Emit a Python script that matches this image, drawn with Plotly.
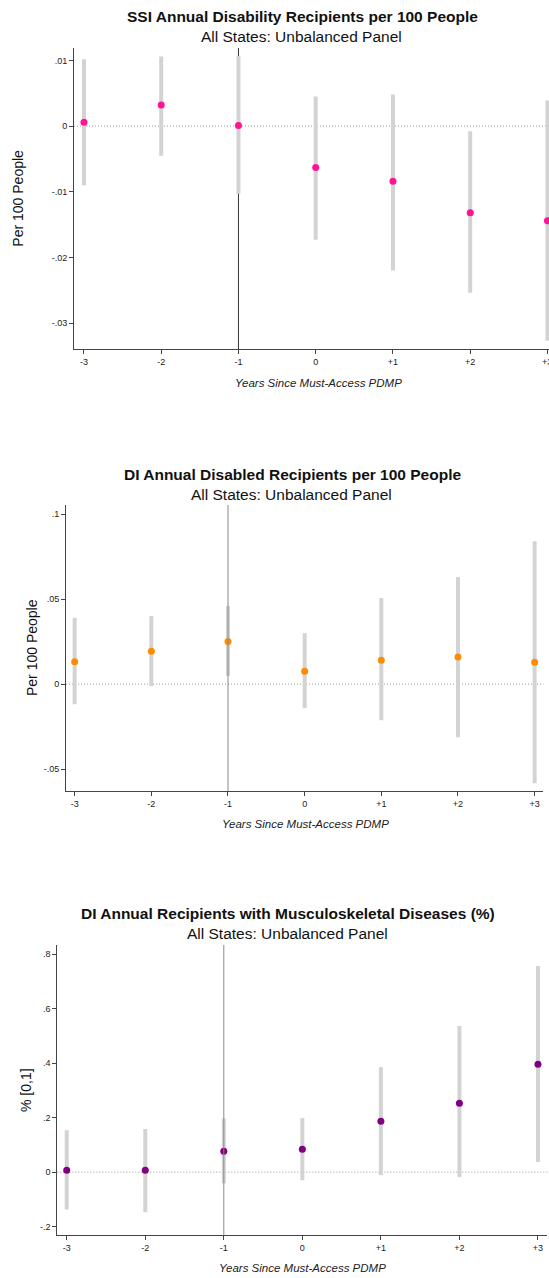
import plotly.graph_objects as go

W, H = 549, 1278

# ---- data ----
years = [-3, -2, -1, 0, 1, 2, 3]
x_ticklabels = ["-3", "-2", "-1", "0", "+1", "+2", "+3"]

ssi_est = [0.0006, 0.0032, 0.0001, -0.0063, -0.0084, -0.0132, -0.0144]
ssi_hi = [0.0102, 0.0106, 0.0107, 0.0045, 0.0048, -0.0008, 0.0039]
ssi_lo = [-0.0090, -0.0045, -0.0103, -0.0173, -0.0220, -0.0254, -0.0327]
ssi_ytick_vals = [0.01, 0, -0.01, -0.02, -0.03]
ssi_ytick_text = [".01", "0", "-.01", "-.02", "-.03"]

di_est = [0.0131, 0.0194, 0.0251, 0.0076, 0.0141, 0.0159, 0.0129]
di_hi = [0.039, 0.040, 0.0459, 0.030, 0.0506, 0.063, 0.084]
di_lo = [-0.0118, -0.0012, 0.0049, -0.0141, -0.0212, -0.0312, -0.0582]
di_ytick_vals = [0.1, 0.05, 0, -0.05]
di_ytick_text = [".1", ".05", "0", "-.05"]

ms_est = [0.0073, 0.007, 0.077, 0.084, 0.187, 0.253, 0.396]
ms_hi = [0.154, 0.158, 0.197, 0.198, 0.385, 0.536, 0.756]
ms_lo = [-0.137, -0.147, -0.041, -0.030, -0.011, -0.018, 0.037]
ms_ytick_vals = [0.8, 0.6, 0.4, 0.2, 0, -0.2]
ms_ytick_text = [".8", ".6", ".4", ".2", "0", "-.2"]

titles = ["SSI Annual Disability Recipients per 100 People",
          "DI Annual Disabled Recipients per 100 People",
          "DI Annual Recipients with Musculoskeletal Diseases (%)"]
subtitle = "All States: Unbalanced Panel"
ytitles = ["Per 100 People", "Per 100 People", "% [0,1]"]
xtitle = "Years Since Must-Access PDMP"
colors = ["#FF1493", "#FF8C00", "#800080"]

# ---- layout geometry (pixels) ----
panels = [
    dict(left=74, right=549, top=48, bottom=349.3, xr=[-3.129, 3.02], yr=[-0.034, 0.0119],
         title_y=17, sub_y=37, title_x=302, ylab_x=18, xt_y=383, xt_x=318, tick_y=362,
         vline_color="#333333", vline_layer="below"),
    dict(left=66, right=543.3, top=505, bottom=791, xr=[-3.113, 3.113], yr=[-0.0628, 0.1053],
         title_y=475, sub_y=494, title_x=292, ylab_x=32, xt_y=824, xt_x=305, tick_y=805,
         vline_color="#8a8a8a", vline_layer="above"),
    dict(left=57.3, right=547.4, top=945, bottom=1235, xr=[-3.12, 3.12], yr=[-0.2305, 0.833],
         title_y=913, sub_y=933, title_x=288, ylab_x=26, xt_y=1268, xt_x=302, tick_y=1249,
         vline_color="#8a8a8a", vline_layer="above"),
]

data = [(ssi_est, ssi_lo, ssi_hi, ssi_ytick_vals, ssi_ytick_text),
        (di_est, di_lo, di_hi, di_ytick_vals, di_ytick_text),
        (ms_est, ms_lo, ms_hi, ms_ytick_vals, ms_ytick_text)]

fx = lambda px: px / W
fy = lambda py: 1 - py / H

fig = go.Figure()
shapes = []
annotations = []
font_fam = "Liberation Sans, Arial, sans-serif"

for i, (p, (est, lo, hi, tv, tt)) in enumerate(zip(panels, data)):
    n = "" if i == 0 else str(i + 1)
    xa, ya = "x" + n, "y" + n
    # CI bars
    cx, cy = [], []
    for xv, l, h in zip(years, lo, hi):
        cx += [xv, xv, None]
        cy += [l, h, None]
    fig.add_trace(go.Scatter(x=cx, y=cy, mode="lines", line=dict(color="#D3D3D3", width=4),
                             xaxis=xa, yaxis=ya, showlegend=False, hoverinfo="skip"))
    fig.add_trace(go.Scatter(x=years, y=est, mode="markers",
                             marker=dict(color=colors[i], size=7, line=dict(width=0)),
                             xaxis=xa, yaxis=ya, showlegend=False, cliponaxis=True))
    # first panel: last tick label is drawn manually so it can be cut at the page edge
    tvals = years[:-1] if i == 0 else years
    ttext = x_ticklabels[:-1] if i == 0 else x_ticklabels
    fig.layout["xaxis" + n] = dict(
        domain=[fx(p["left"]), fx(p["right"])], range=p["xr"], anchor=ya,
        tickvals=years, ticktext=[t if t in ttext else "" for t in x_ticklabels],
        showgrid=False, zeroline=False,
        showline=True, linecolor="#444444", linewidth=1, ticks="outside", ticklen=4,
        tickcolor="#444444", tickfont=dict(size=9, color="#222222", family=font_fam))
    if i == 0:
        annotations.append(dict(text=x_ticklabels[-1], x=years[-1], xref=xa, y=fy(p["tick_y"]),
                                yref="paper", showarrow=False, xanchor="center", yanchor="middle",
                                font=dict(size=9, color="#222222", family=font_fam)))
    fig.layout["yaxis" + n] = dict(
        domain=[fy(p["bottom"]), fy(p["top"])], range=p["yr"], anchor=xa,
        tickvals=tv, ticktext=tt, showgrid=False, zeroline=False,
        showline=True, linecolor="#444444", linewidth=1, ticks="outside", ticklen=4,
        tickcolor="#444444", tickfont=dict(size=9, color="#222222", family=font_fam))
    # zero dotted line
    shapes.append(dict(type="line", xref=xa + " domain", yref=ya, x0=0, x1=1, y0=0, y1=0,
                       line=dict(color="#999999", width=1, dash="1px,2px"), layer="below"))
    # vertical reference line at -1
    shapes.append(dict(type="line", xref=xa, yref=ya + " domain", x0=-1, x1=-1, y0=0, y1=1,
                       line=dict(color=p["vline_color"], width=1), layer=p["vline_layer"]))
    # titles
    annotations.append(dict(text="<b>" + titles[i] + "</b>", x=fx(p["title_x"]), y=fy(p["title_y"]),
                            xref="paper", yref="paper", showarrow=False, xanchor="center", yanchor="middle",
                            font=dict(size=15.5, color="#111111", family=font_fam)))
    annotations.append(dict(text=subtitle, x=fx(p["title_x"] - 1), y=fy(p["sub_y"]),
                            xref="paper", yref="paper", showarrow=False, xanchor="center", yanchor="middle",
                            font=dict(size=15.5, color="#111111", family=font_fam)))
    annotations.append(dict(text=ytitles[i], x=fx(p["ylab_x"]), y=fy((p["top"] + p["bottom"]) / 2),
                            xref="paper", yref="paper", showarrow=False, xanchor="center", yanchor="middle",
                            textangle=-90, font=dict(size=14, color="#111111", family=font_fam)))
    annotations.append(dict(text="<i>" + xtitle + "</i>", x=fx(p["xt_x"]), y=fy(p["xt_y"]),
                            xref="paper", yref="paper", showarrow=False, xanchor="center", yanchor="middle",
                            font=dict(size=11.5, color="#222222", family=font_fam)))

fig.update_layout(width=W, height=H, margin=dict(l=0, r=0, t=0, b=0),
                  plot_bgcolor="white", paper_bgcolor="white",
                  shapes=shapes, annotations=annotations)

fig.write_html("out.html", config={"displayModeBar": False},
               post_script="document.body.style.margin='0';"
                           "document.body.style.overflow='hidden';"
                           "document.documentElement.style.overflow='hidden';")
